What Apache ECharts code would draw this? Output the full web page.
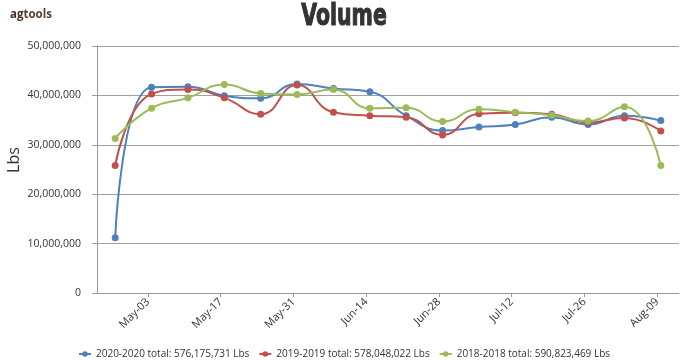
<!DOCTYPE html>
<html>
<head>
<meta charset="utf-8">
<script src="https://cdn.jsdelivr.net/npm/echarts@6/dist/echarts.min.js"></script>
<style>
html,body{margin:0;padding:0;background:#fff;}
#chart{width:688px;height:360px;}
</style>
</head>
<body>
<div id="chart"></div>
<script>
// ---- data ----
var weeks = ['W1','W2','W3','W4','W5','W6','W7','W8','W9','W10','W11','W12','W13','W14','W15','W16'];
var tickLabels = ['May-03','May-17','May-31','Jun-14','Jun-28','Jul-12','Jul-26','Aug-09'];
var tickDates = ['2020-05-03','2020-05-17','2020-05-31','2020-06-14','2020-06-28','2020-07-12','2020-07-26','2020-08-09'];
var seriesNames = ['2020-2020 total: 576,175,731 Lbs','2019-2019 total: 578,048,022 Lbs','2018-2018 total: 590,823,469 Lbs'];
var vol2020 = [11190000,41640000,41760000,39940000,39400000,42300000,41400000,40750000,35900000,32900000,33600000,34100000,35600000,34100000,35900000,34900000];
var vol2019 = [25800000,40300000,41200000,39500000,36200000,42100000,36600000,35900000,35600000,32000000,36300000,36500000,36200000,34500000,35400000,32800000];
var vol2018 = [31300000,37400000,39500000,42200000,40400000,40200000,41200000,37400000,37500000,34700000,37200000,36600000,36000000,34800000,37700000,25800000];

var colors = ['#4F81BD','#C0504D','#9BBB59'];
var font = '"Open Sans", "Noto Sans", sans-serif';
var DAY = 86400000;
var t0 = Date.parse(tickDates[0]);
var tickDays = tickDates.map(function(d){ return (Date.parse(d) - t0) / DAY; });
// first point ~6.3 days before first tick, weekly points, half-week padding on each side
var axisMinDay = -6.3 - 3.5;
var axisMaxDay = -6.3 + (weeks.length - 1) * 7 + 3.5;

function fmt(v){ return Number(v).toLocaleString('en-US'); }

var chart = echarts.init(document.getElementById('chart'), null, {renderer:'canvas'});
var mkSeries = function(name, data, color){
  return {
    name: name, type: 'line', data: data, xAxisIndex: 0, yAxisIndex: 0,
    smooth: 0.5, symbol: 'circle', symbolSize: 7, showSymbol: true,
    lineStyle: {color: color, width: 2}, itemStyle: {color: color},
    emphasis: {disabled: true}, animation: false
  };
};
chart.setOption({
  animation: false,
  color: colors,
  title: [{
    text: '{a|ag}{b|tools}', left: 5, top: 4,
    textStyle: {rich: {
      a: {fontFamily: font, fontSize: 11.5, fontWeight: 'bold', color: '#4a2a1c'},
      b: {fontFamily: font, fontSize: 11.5, color: '#5e3c2e'}
    }}
  }],
  graphic: [{
    type: 'text', x: 344, y: 16.5, scaleX: 0.66, scaleY: 1,
    style: {text: 'Volume', fontFamily: '"DejaVu Sans", sans-serif', fontWeight: 'bold', fontSize: 31,
            fill: '#333', stroke: '#333', lineWidth: 1.2, align: 'center', verticalAlign: 'middle'}
  },{
    type: 'text', x: 14, y: 160, rotation: Math.PI / 2,
    style: {text: 'Lbs', fontFamily: font, fontSize: 16, fill: '#333', align: 'center', verticalAlign: 'middle'}
  }],
  grid: {left: 97, right: 9, top: 46, bottom: 67, containLabel: false},
  legend: {
    left: 'center', top: 344, itemWidth: 12, itemHeight: 7, itemGap: 9,
    textStyle: {fontFamily: font, fontSize: 10, color: '#333'},
    data: seriesNames
  },
  xAxis: [{
    type: 'category', data: weeks, boundaryGap: true,
    axisLine: {show: false}, axisTick: {show: false}, axisLabel: {show: false}, splitLine: {show: false}
  },{
    type: 'value', min: axisMinDay, max: axisMaxDay, position: 'bottom',
    axisLine: {show: true, onZero: false, lineStyle: {color: '#9a9a9a', width: 1}},
    axisTick: {show: true, length: 4, lineStyle: {color: '#9a9a9a'}, customValues: tickDays},
    axisLabel: {
      customValues: tickDays, rotate: 45, margin: 7,
      fontFamily: font, fontSize: 11, color: '#333',
      formatter: function(v){ var i = tickDays.indexOf(Math.round(v)); return i >= 0 ? tickLabels[i] : ''; }
    },
    splitLine: {show: false}
  }],
  yAxis: [{
    type: 'value', min: 0, max: 50000000, interval: 10000000,
    axisLine: {show: true, onZero: false, lineStyle: {color: '#9a9a9a'}},
    axisTick: {show: true, length: 5, lineStyle: {color: '#9a9a9a'}},
    axisLabel: {margin: 16, fontFamily: font, fontSize: 10.5, color: '#333', formatter: fmt},
    splitLine: {show: true, lineStyle: {color: '#a0a0a0', width: 1}}
  }],
  series: [
    mkSeries(seriesNames[0], vol2020, colors[0]),
    mkSeries(seriesNames[1], vol2019, colors[1]),
    mkSeries(seriesNames[2], vol2018, colors[2])
  ]
});
</script>
</body>
</html>
